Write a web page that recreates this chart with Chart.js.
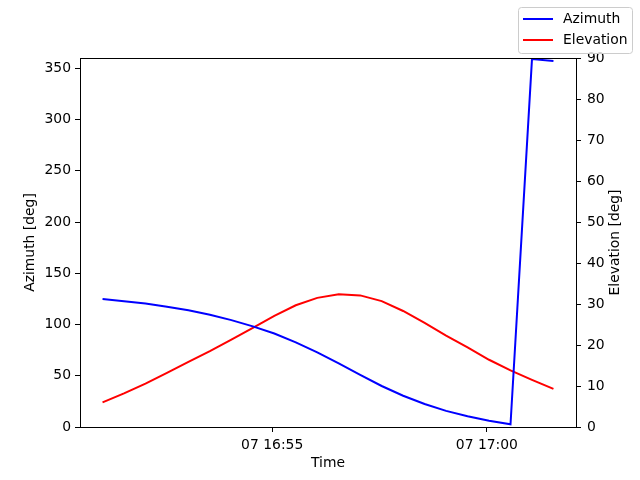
<!DOCTYPE html>
<html>
<head>
<meta charset="utf-8">
<script src="https://cdn.jsdelivr.net/npm/chart.js@4"></script>
<style>
  html, body { margin: 0; padding: 0; background: #fff; }
</style>
</head>
<body>
<canvas id="pass" width="640" height="480"></canvas>
<script>
// sample times (day 07), every 30 s
const times = [
    "16:51:03", "16:51:33", "16:52:03", "16:52:33", "16:53:03", "16:53:33",
    "16:54:03", "16:54:33", "16:55:03", "16:55:33", "16:56:03", "16:56:33",
    "16:57:03", "16:57:33", "16:58:03", "16:58:33", "16:59:03", "16:59:33",
    "17:00:03", "17:00:33", "17:01:03", "17:01:33"
];
const azimuth = [
    124.8, 122.8, 120.4, 117.4, 113.8, 109.5, 104.3, 98.2, 91.2, 82.6, 72.8,
    62.0, 50.8, 40.0, 30.5, 22.4, 15.7, 10.4, 6.2, 2.6, 358.9, 357.0
];
const elevation = [
    6.0, 8.2, 10.6, 13.2, 15.9, 18.5, 21.3, 24.2, 27.1, 29.7, 31.5,
    32.4, 32.1, 30.7, 28.3, 25.4, 22.3, 19.4, 16.4, 13.8, 11.5, 9.3
];
const dayLabel = "07";
const timeTicks = ["16:55", "17:00"];
const azimuthTicks = [0, 50, 100, 150, 200, 250, 300, 350];
const elevationTicks = [0, 10, 20, 30, 40, 50, 60, 70, 80, 90];

const FONT = "'DejaVu Sans', sans-serif";
const FS = 13.9;

function toMin(t) {
    const p = t.split(":").map(Number);
    return p[0] * 60 + p[1] + (p[2] || 0) / 60;
}
function fmtMin(v) {
    const h = Math.floor(v / 60);
    const m = Math.round(v - h * 60);
    return String(h).padStart(2, "0") + ":" + String(m).padStart(2, "0");
}

const xs = times.map(toMin);
const span = xs[xs.length - 1] - xs[0];

Chart.defaults.color = "#000";
Chart.defaults.font.family = FONT;
Chart.defaults.font.size = FS;

const frameAndLegend = {
    id: "frameAndLegend",
    afterDraw(chart) {
        const ctx = chart.ctx;
        const a = chart.chartArea;
        ctx.save();
        // top edge of the frame
        ctx.strokeStyle = "#000";
        ctx.lineWidth = 1;
        ctx.beginPath();
        ctx.moveTo(a.left, a.top + 0.5);
        ctx.lineTo(a.right, a.top + 0.5);
        ctx.stroke();

        // right axis label, reading bottom to top
        ctx.fillStyle = "#000";
        ctx.font = FS + "px " + FONT;
        ctx.textAlign = "center";
        ctx.textBaseline = "middle";
        ctx.translate(615, (a.top + a.bottom) / 2);
        ctx.rotate(-Math.PI / 2);
        ctx.fillText("Elevation [deg]", 0, 0);
        ctx.restore();

        // figure legend
        ctx.save();
        ctx.beginPath();
        ctx.roundRect(518.5, 7.5, 114, 46, 3);
        ctx.fillStyle = "rgba(255,255,255,0.8)";
        ctx.fill();
        ctx.strokeStyle = "#cccccc";
        ctx.lineWidth = 1;
        ctx.stroke();
        ctx.font = FS + "px " + FONT;
        ctx.textAlign = "left";
        ctx.textBaseline = "middle";
        chart.data.datasets.forEach((ds, i) => {
            const y = 19 + 21 * i;
            ctx.strokeStyle = ds.borderColor;
            ctx.lineWidth = 2;
            ctx.beginPath();
            ctx.moveTo(523, y);
            ctx.lineTo(553, y);
            ctx.stroke();
            ctx.fillStyle = "#000";
            ctx.fillText(ds.label, 563, y);
        });
        ctx.restore();
    }
};

new Chart(document.getElementById("pass"), {
    type: "line",
    data: {
        datasets: [
            {
                label: "Azimuth",
                data: xs.map((x, i) => ({ x: x, y: azimuth[i] })),
                borderColor: "#0000ff",
                backgroundColor: "#0000ff",
                borderWidth: 2,
                pointRadius: 0,
                tension: 0,
                yAxisID: "y"
            },
            {
                label: "Elevation",
                data: xs.map((x, i) => ({ x: x, y: elevation[i] })),
                borderColor: "#ff0000",
                backgroundColor: "#ff0000",
                borderWidth: 2,
                pointRadius: 0,
                tension: 0,
                yAxisID: "y1"
            }
        ]
    },
    options: {
        responsive: false,
        animation: false,
        devicePixelRatio: 1,
        layout: { padding: { top: 58, left: 0, right: 0, bottom: 0 } },
        plugins: { legend: { display: false }, tooltip: { enabled: false } },
        scales: {
            x: {
                type: "linear",
                min: xs[0] - 0.05 * span,
                max: xs[xs.length - 1] + 0.05 * span,
                afterBuildTicks: s => { s.ticks = timeTicks.map(t => ({ value: toMin(t) })); },
                afterFit: s => { s.height = 53; },
                ticks: {
                    maxRotation: 0,
                    padding: 5,
                    callback: v => dayLabel + " " + fmtMin(v)
                },
                grid: { drawOnChartArea: false, drawTicks: true, tickLength: 5, color: "#000" },
                border: { color: "#000", width: 1 },
                title: { display: true, text: "Time", padding: { top: 0, bottom: 8.5 } }
            },
            y: {
                position: "left",
                min: 0,
                max: 360,
                afterBuildTicks: s => { s.ticks = azimuthTicks.map(v => ({ value: v })); },
                afterFit: s => { s.width = 80; },
                ticks: { padding: 4 },
                grid: { drawOnChartArea: false, drawTicks: true, tickLength: 5, color: "#000" },
                border: { color: "#000", width: 1 },
                title: { display: true, text: "Azimuth [deg]", padding: { top: 21.7, bottom: 0 } }
            },
            y1: {
                position: "right",
                min: 0,
                max: 90,
                afterBuildTicks: s => { s.ticks = elevationTicks.map(v => ({ value: v })); },
                afterFit: s => { s.width = 64; },
                ticks: { padding: 6 },
                grid: { drawOnChartArea: false, drawTicks: true, tickLength: 5, color: "#000" },
                border: { color: "#000", width: 1 }
            }
        }
    },
    plugins: [frameAndLegend]
});
</script>
</body>
</html>
